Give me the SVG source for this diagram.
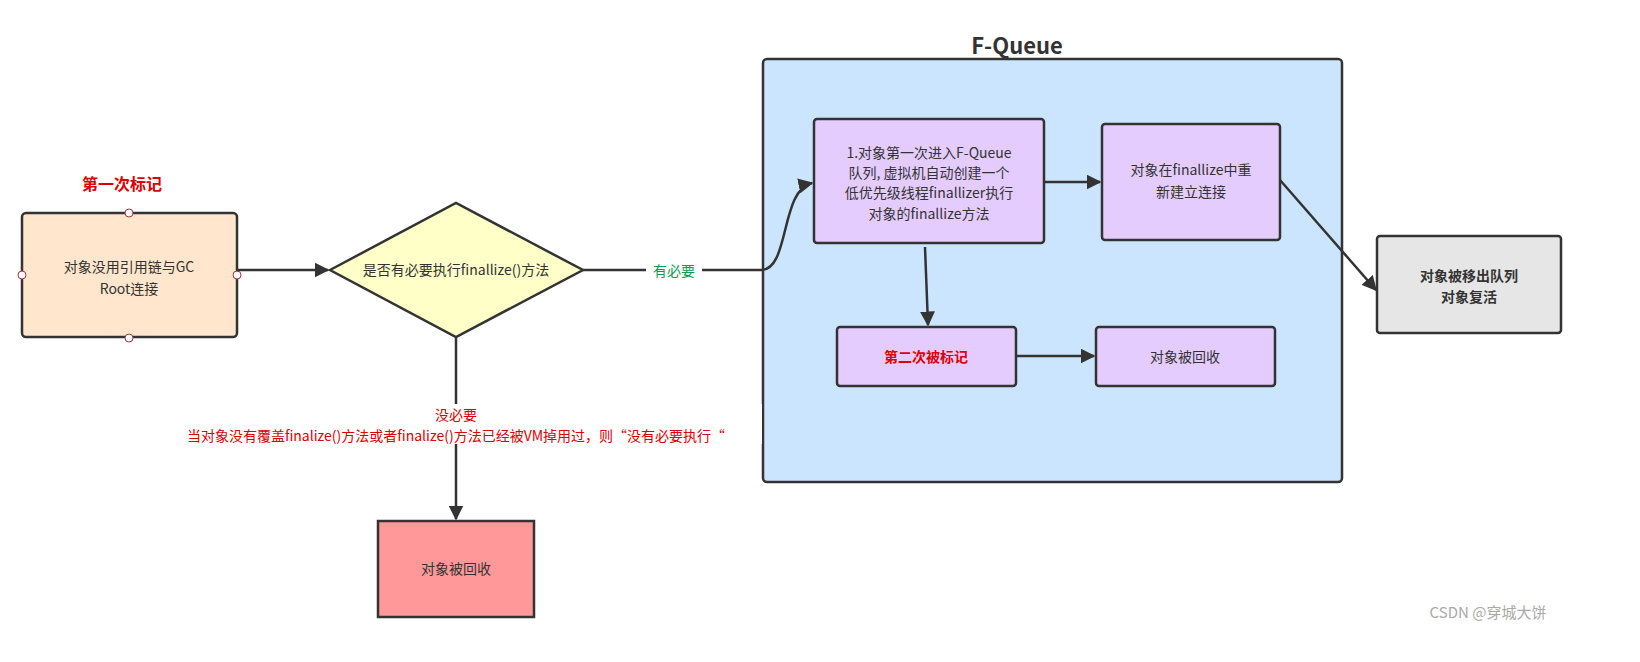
<svg xmlns="http://www.w3.org/2000/svg" width="1640" height="662" viewBox="0 0 1640 662">
<defs>
<style>
text{font-family:"Noto Sans CJK SC","Liberation Sans",sans-serif;font-size:14px;fill:#333;text-anchor:middle}
.n{stroke:#333;stroke-width:2.5}
.c{stroke:#333;stroke-width:2.5;fill:none}
.b{font-weight:bold}
.red{fill:#d00}
</style>
<marker id="a" viewBox="0 0 10 10" refX="9" refY="5" markerWidth="6" markerHeight="6" orient="auto"><path d="M0,0L10,5L0,10z" fill="#333"/></marker>
</defs>
<rect width="1640" height="662" fill="#fff"/>
<g id="fqueue"><rect class="n" x="763" y="59" width="579" height="423" rx="4" fill="#cce5ff"/><text x="1017" y="54" class="b" style="font-size:22px">F-Queue</text></g>
<g id="mark1"><text x="122" y="190" class="b red" style="font-size:16px">第一次标记</text></g>
<g id="n1"><rect class="n" x="22" y="213" width="215" height="124" rx="4" fill="#ffe6cc"/>
<text x="129" y="272">对象没用引用链与GC</text><text x="129" y="294">Root连接</text>
<g fill="#fff" stroke="#a33" stroke-width="1"><circle cx="129" cy="213" r="4"/><circle cx="22" cy="275" r="4"/><circle cx="237" cy="275" r="4"/><circle cx="129" cy="338" r="4"/></g></g>
<g id="n2"><polygon class="n" points="330,270 456,203 583,270 456,337" fill="#ffffc8"/><text x="456" y="275">是否有必要执行finallize()方法</text></g>
<g id="n3"><rect class="n" x="378" y="521" width="156" height="96" fill="#ff9999"/><text x="456" y="574">对象被回收</text></g>
<g id="n4"><rect class="n" x="814" y="119" width="230" height="124" rx="3" fill="#e5ccff"/>
<text x="929" y="158">1.对象第一次进入F-Queue</text><text x="929" y="178">队列, 虚拟机自动创建一个</text><text x="929" y="198">低优先级线程finallizer执行</text><text x="929" y="219">对象的finallize方法</text></g>
<g id="n5"><rect class="n" x="1102" y="124" width="178" height="116" rx="3" fill="#e5ccff"/><text x="1191" y="175">对象在finallize中重</text><text x="1191" y="197">新建立连接</text></g>
<g id="n6"><rect class="n" x="837" y="327" width="179" height="59" rx="3" fill="#e5ccff"/><text x="926" y="362" class="b red">第二次被标记</text></g>
<g id="n7"><rect class="n" x="1096" y="327" width="179" height="59" rx="3" fill="#e5ccff"/><text x="1185" y="362">对象被回收</text></g>
<g id="n8"><rect class="n" x="1377" y="236" width="184" height="97" rx="3" fill="#e6e6e6"/><text x="1469" y="281" class="b">对象被移出队列</text><text x="1469" y="302" class="b">对象复活</text></g>
<g id="connectors">
<path class="c" d="M237,270L328,270" marker-end="url(#a)"/>
<path class="c" d="M583,270L761,270C790,270 780,190 812,183" marker-end="url(#a)"/>
<rect x="646" y="262" width="56" height="18" fill="#fff"/><text x="674" y="276" style="fill:#00a050">有必要</text>
<path class="c" d="M456,337L456,519" marker-end="url(#a)"/>
<rect x="150" y="404" width="612" height="40" fill="#fff"/>
<text x="456" y="420" class="red">没必要</text><text x="456" y="441" class="red">当对象没有覆盖finalize()方法或者finalize()方法已经被VM掉用过，则“没有必要执行“</text>
<path class="c" d="M1044,182L1100,182" marker-end="url(#a)"/>
<path class="c" d="M1280,180L1376,290" marker-end="url(#a)"/>
<path class="c" d="M925,247L928,325" marker-end="url(#a)"/>
<path class="c" d="M1016,356L1094,356" marker-end="url(#a)"/>
</g>
<text x="1488" y="618" style="fill:#aaa;font-size:15px">CSDN @穿城大饼</text>
</svg>
